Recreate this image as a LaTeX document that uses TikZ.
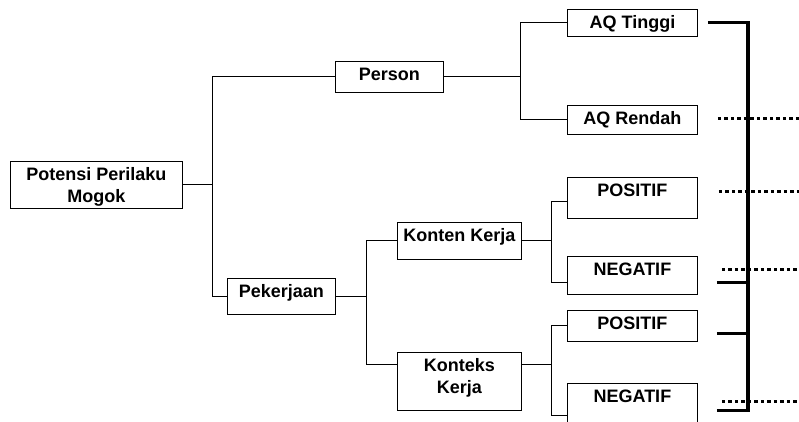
\documentclass[tikz,border=0pt]{standalone}
\usepackage{fontspec}
\setmainfont{Liberation Sans}

\begin{document}
\begin{tikzpicture}[x=1pt, y=-1pt,
    every node/.style={font=\fontsize{18}{22}\selectfont\bfseries},
    box/.style 2 args={draw, line width=0.8pt, anchor=north west, align=center,
      inner xsep=0pt, inner ysep=6pt, text height=12.9pt,
      minimum width=#1pt, text depth=#2pt},
    twoline/.style={text height=34.9pt},
    conn/.style={line width=0.9pt},
    heavy/.style={line width=3.2pt},
    dots/.style={line width=3.2pt, dash pattern=on 3.5pt off 3pt}]

  \useasboundingbox (0,0) rectangle (799,422);

  % boxes
  \node[box={172}{0.1}, twoline] (root) at (10,161) {Potensi Perilaku\\Mogok};
  \node[box={108}{6.1}] (person) at (335,61) {Person};
  \node[box={108}{11.1}] (pek) at (227,278) {Pekerjaan};
  \node[box={124}{12.1}] (konten) at (397,222) {Konten Kerja};
  \node[box={124}{11.1}, twoline] (konteks) at (397,352) {Konteks\\Kerja};
  \node[box={130}{2.1}] (aqt) at (567,9) {AQ Tinggi};
  \node[box={130}{4.1}] (aqr) at (567,105) {AQ Rendah};
  \node[box={130}{16.1}] (posa) at (567,177) {POSITIF};
  \node[box={130}{13.1}] (nega) at (567,256) {NEGATIF};
  \node[box={130}{6.1}] (posb) at (567,310) {POSITIF};
  \node[box={130}{25.1}] (negb) at (567,383) {NEGATIF};

  % first split
  \draw[conn] (root.east) to ++(30,0) coordinate (rootfork);
  \draw[conn] (person.west) -| (rootfork) |- (pek.west);

  % person
  \draw[conn] (person.east) to ++(77,0) coordinate (personfork);
  \draw[conn] (aqt.west) -| (personfork) |- (aqr.west);

  % pekerjaan
  \draw[conn] (pek.east) to ++(31,0) coordinate (pekfork);
  \draw[conn] (konten.west) -| (pekfork) |- ([yshift=17pt]konteks.west);

  % konten kerja
  \draw[conn] (konten.east) to ++(30,0) coordinate (kontenfork);
  \draw[conn] ([yshift=-3.5pt]posa.west) -| (kontenfork) |- ([yshift=-7pt]nega.west);

  % konteks kerja
  \draw[conn] ([yshift=17pt]konteks.east) to ++(30,0) coordinate (konteksfork);
  \draw[conn] (posb.west) -| (konteksfork) |- ([yshift=-7pt]negb.west);

  % heavy bracket
  \coordinate (spinebot) at (748,412);
  \draw[heavy] ([xshift=10pt]aqt.east) -| (spinebot);
  \draw[heavy] ([xshift=19pt, yshift=-7pt]nega.east) to ++(32,0);
  \draw[heavy] ([xshift=19pt, yshift=-7.5pt]posb.east) to ++(32,0);
  \draw[heavy] ([xshift=19pt, yshift=-2pt]negb.east) to ++(32,0);

  % dotted leads
  \draw[dots] ([xshift=20pt, yshift=1.5pt]aqr.east) to ++(85,0);
  \draw[dots] ([xshift=21pt, yshift=6.5pt]posa.east) to ++(85,0);
  \draw[dots] ([xshift=24pt, yshift=6pt]nega.east) to ++(85,0);
  \draw[dots] ([xshift=24pt, yshift=7pt]negb.east) to ++(85,0);
\end{tikzpicture}
\end{document}
